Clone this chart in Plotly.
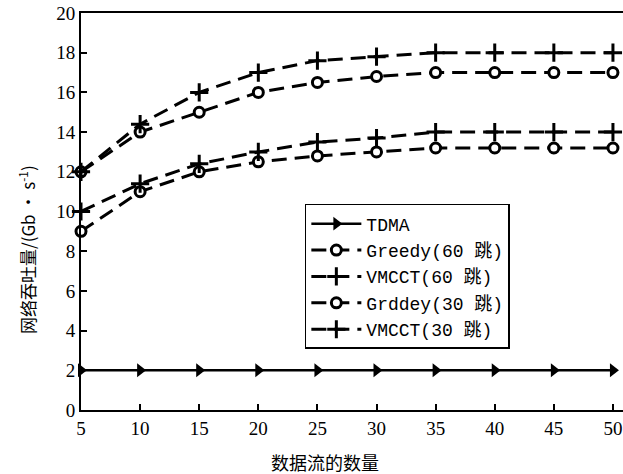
import plotly.graph_objects as go

flows = [5, 10, 15, 20, 25, 30, 35, 40, 45, 50]
tdma = [2, 2, 2, 2, 2, 2, 2, 2, 2, 2]
greedy60 = [12, 14, 15, 16, 16.5, 16.8, 17, 17, 17, 17]
vmcct60 = [12, 14.4, 16, 17, 17.6, 17.8, 18, 18, 18, 18]
greedy30 = [9, 11, 12, 12.5, 12.8, 13, 13.2, 13.2, 13.2, 13.2]
vmcct30 = [10, 11.4, 12.4, 13, 13.5, 13.7, 14, 14, 14, 14]
names = ["TDMA", "Greedy(60 跳)", "VMCCT(60 跳)", "Grddey(30 跳)", "VMCCT(30 跳)"]
x_ticks = [5, 10, 15, 20, 25, 30, 35, 40, 45, 50]
y_ticks = [0, 2, 4, 6, 8, 10, 12, 14, 16, 18, 20]
x_title = "数据流的数量"
y_title = "网络吞吐量/(Gb • s<sup>-1</sup>)"

FONT = "Liberation Serif, Noto Sans CJK SC, serif"
LEGFONT = "Liberation Mono, Noto Sans CJK SC, monospace"
DASH = "15px,8px"

fig = go.Figure()
fig.add_trace(go.Scatter(
    x=flows, y=tdma, name=names[0], mode="lines+markers", cliponaxis=False,
    line=dict(color="black", width=2.5),
    marker=dict(symbol="triangle-right", size=12, color="black"),
))
fig.add_trace(go.Scatter(
    x=flows, y=greedy60, name=names[1], mode="lines+markers", cliponaxis=False,
    line=dict(color="black", width=3, dash=DASH),
    marker=dict(symbol="circle", size=10, color="white",
                line=dict(color="black", width=3)),
))
fig.add_trace(go.Scatter(
    x=flows, y=vmcct60, name=names[2], mode="lines+markers", cliponaxis=False,
    line=dict(color="black", width=3, dash=DASH),
    marker=dict(symbol="cross-thin", size=13, color="black",
                line=dict(color="black", width=3)),
))
fig.add_trace(go.Scatter(
    x=flows, y=greedy30, name=names[3], mode="lines+markers", cliponaxis=False,
    line=dict(color="black", width=3, dash=DASH),
    marker=dict(symbol="circle", size=10, color="white",
                line=dict(color="black", width=3)),
))
fig.add_trace(go.Scatter(
    x=flows, y=vmcct30, name=names[4], mode="lines+markers", cliponaxis=False,
    line=dict(color="black", width=3, dash=DASH),
    marker=dict(symbol="cross-thin", size=13, color="black",
                line=dict(color="black", width=3)),
))

fig.update_layout(
    width=623, height=474,
    margin=dict(l=81, r=0, t=13, b=64),
    paper_bgcolor="white", plot_bgcolor="white",
    font=dict(family=FONT, size=19, color="black"),
    showlegend=True,
    legend=dict(
        x=0.413, y=0.519, xanchor="left", yanchor="top",
        bgcolor="white", bordercolor="black", borderwidth=1.5,
        font=dict(family=LEGFONT, size=18, color="black"),
        itemwidth=50, tracegroupgap=0,
    ),
    xaxis=dict(
        range=[5, 50.85], tickvals=x_ticks, ticktext=[str(v) for v in x_ticks],
        showgrid=False, zeroline=False,
        showline=True, linecolor="black", linewidth=2, mirror=True,
        ticks="inside", ticklen=6, tickwidth=1.5, tickcolor="black",
        ticklabeloverflow="allow",
        automargin=False,
    ),
    yaxis=dict(
        range=[0, 20], tickvals=y_ticks, ticktext=[str(v) for v in y_ticks],
        showgrid=False, zeroline=False,
        showline=True, linecolor="black", linewidth=2, mirror=False,
        ticks="inside", ticklen=6, tickwidth=1.5, tickcolor="black",
        ticklabeloverflow="allow",
        automargin=False,
    ),
    annotations=[
        dict(text=x_title, xref="paper", yref="paper", x=0.45, y=-0.131,
             xanchor="center", yanchor="middle", showarrow=False,
             font=dict(family="Noto Sans CJK SC", size=18, color="black")),
        dict(text=y_title, xref="paper", yref="paper", x=-0.0996, y=0.403,
             xanchor="center", yanchor="middle", showarrow=False, textangle=-90,
             font=dict(family="Noto Sans CJK SC, Liberation Serif", size=17, color="black")),
    ],
)

fig.write_html(
    "out.html",
    config={"displayModeBar": False},
    post_script="document.body.style.margin='0';document.body.style.overflow='hidden';",
)
